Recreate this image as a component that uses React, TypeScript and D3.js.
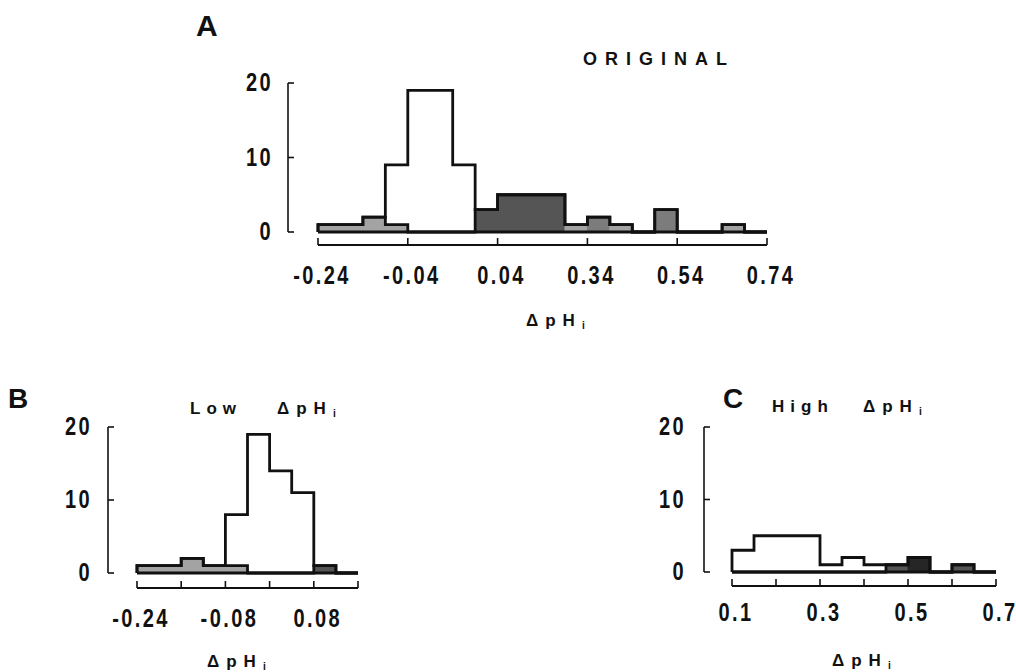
import React from 'react';
import * as d3 from 'd3';

// ---------- data ----------
// Panel A (ORIGINAL): counts per bin, outer outline and shaded part
const totalA = [1, 1, 2, 9, 19, 19, 9, 3, 5, 5, 5, 1, 2, 1, 0, 3, 0, 0, 1, 0];
const shadedA = [1, 1, 2, 1, 0, 0, 0, 3, 5, 5, 5, 1, 2, 1, 0, 3, 0, 0, 1, 0];
const toneA = ['L', 'L', 'L', 'L', '', '', '', 'D', 'D', 'D', 'D', 'L', 'M', 'L', '', 'M', '', '', 'L', ''];
const tickLabelsA = ['-0.24', '-0.04', '0.04', '0.34', '0.54', '0.74'];

// Panel B (Low ΔpHi)
const totalB = [1, 1, 2, 1, 8, 19, 14, 11, 1, 0];
const shadedB = [1, 1, 2, 1, 1, 0, 0, 0, 1, 0];
const toneB = ['L', 'L', 'L', 'L', 'L', '', '', '', 'D', ''];
const tickLabelsB = ['-0.24', '', '-0.08', '', '0.08', ''];

// Panel C (High ΔpHi)
const totalC = [3, 5, 5, 5, 1, 2, 1, 1, 2, 0, 1, 0];
const shadedC = [0, 0, 0, 0, 0, 0, 0, 1, 2, 0, 1, 0];
const toneC = ['', '', '', '', '', '', '', 'D', 'K', '', 'D', ''];
const tickLabelsC = ['0.1', '', '0.3', '', '0.5', '', '0.7'];

const yTickValues = [0, 10, 20];

const TONES: Record<string, string> = {
  L: '#a3a3a3',
  M: '#7c7c7c',
  D: '#555555',
  K: '#262626',
};

const NUM_FONT = "'Liberation Sans', Arial, sans-serif";
const INK = '#111';

function NarrowText({ x, y, children, anchor = 'middle', size = 25, ls = 3 }: any) {
  return (
    <text
      transform={`translate(${x},${y}) scale(0.8,1)`}
      textAnchor={anchor}
      dominantBaseline="central"
      fontFamily={NUM_FONT}
      fontWeight="bold"
      fontSize={size}
      letterSpacing={ls}
      fill={INK}
    >
      {children}
    </text>
  );
}

function DpHi({ x, y, size = 17, ls = 7 }: any) {
  return (
    <text x={x} y={y} fontFamily={NUM_FONT} fontWeight="bold" fontSize={size} letterSpacing={ls} fill={INK}>
      ΔpH
      <tspan fontSize={size * 0.6} dy={3}>i</tspan>
    </text>
  );
}

function Panel(props: any) {
  const {
    total, shaded, tone, tickLabels, tickStep,
    x0, x1, yBase, yTop, axisX, xAxisY, yLabelRight, xLabelCY,
  } = props;
  const n = total.length;
  const x = d3.scaleLinear().domain([0, n]).range([x0, x1]);
  const y = d3.scaleLinear().domain([0, 20]).range([yBase, yTop]);

  const stepLine = d3
    .line<[number, number]>()
    .x((d) => x(d[0]))
    .y((d) => y(d[1]))
    .curve(d3.curveStepAfter);

  const pts = (vals: number[]): [number, number][] => [
    [0, 0],
    ...vals.map((v, i) => [i, v] as [number, number]),
    [n, 0],
  ];

  const ticks = d3.range(0, n + 1, tickStep);

  return (
    <g>
      {/* shaded fills */}
      {shaded.map((v: number, i: number) =>
        v > 0 ? (
          <rect
            key={'s' + i}
            x={x(i) - 0.5}
            y={y(v)}
            width={x(i + 1) - x(i) + 1}
            height={y(0) - y(v)}
            fill={TONES[tone[i]] || '#888'}
          />
        ) : null
      )}
      {/* outlines */}
      <path d={stepLine(pts(total)) || ''} fill="none" stroke={INK} strokeWidth={2.8} strokeLinejoin="miter" />
      <path d={stepLine(pts(shaded)) || ''} fill="none" stroke={INK} strokeWidth={2.8} strokeLinejoin="miter" />
      <line x1={x(0)} x2={x(n)} y1={y(0)} y2={y(0)} stroke={INK} strokeWidth={2.8} />

      {/* y axis bracket */}
      <line x1={axisX} x2={axisX} y1={y(0)} y2={y(20)} stroke={INK} strokeWidth={1.6} />
      {yTickValues.map((t) => (
        <g key={'yt' + t}>
          <line x1={axisX} x2={axisX + 6} y1={y(t)} y2={y(t)} stroke={INK} strokeWidth={1.6} />
          <NarrowText x={yLabelRight} y={y(t)} anchor="end">{String(t)}</NarrowText>
        </g>
      ))}

      {/* x axis */}
      <line x1={x(0)} x2={x(n)} y1={xAxisY} y2={xAxisY} stroke={INK} strokeWidth={1.8} />
      {ticks.map((t: number, i: number) => (
        <g key={'xt' + t}>
          <line x1={x(t)} x2={x(t)} y1={xAxisY} y2={xAxisY - 7} stroke={INK} strokeWidth={1.6} />
          {tickLabels[i] ? (
            <NarrowText x={x(t) + 4} y={xLabelCY}>{tickLabels[i]}</NarrowText>
          ) : null}
        </g>
      ))}
    </g>
  );
}

export default function App() {
  return (
    <svg
      width={1016}
      height={672}
      style={{ position: 'absolute', left: 0, top: 0, background: '#fff' }}
    >
      <rect x={0} y={0} width={1016} height={672} fill="#fff" />

      {/* Panel A */}
      <text x={196} y={36} fontFamily={NUM_FONT} fontWeight="bold" fontSize={30} fill={INK}>A</text>
      <text x={583} y={65} fontFamily={NUM_FONT} fontWeight="bold" fontSize={18} letterSpacing={8} fill={INK}>ORIGINAL</text>
      <Panel
        total={totalA} shaded={shadedA} tone={toneA} tickLabels={tickLabelsA} tickStep={4}
        x0={318} x1={767} yBase={232} yTop={83} axisX={288} xAxisY={245}
        yLabelRight={273} xLabelCY={276}
      />
      <DpHi x={526} y={326} />

      {/* Panel B */}
      <text x={8} y={408} fontFamily={NUM_FONT} fontWeight="bold" fontSize={28} fill={INK}>B</text>
      <text x={190} y={414} fontFamily={NUM_FONT} fontWeight="bold" fontSize={17} letterSpacing={6} fill={INK}>Low</text>
      <DpHi x={277} y={414} />
      <Panel
        total={totalB} shaded={shadedB} tone={toneB} tickLabels={tickLabelsB} tickStep={2}
        x0={137} x1={358} yBase={573} yTop={427} axisX={108} xAxisY={588}
        yLabelRight={92} xLabelCY={619}
      />
      <DpHi x={207} y={667} />

      {/* Panel C */}
      <text x={723} y={408} fontFamily={NUM_FONT} fontWeight="bold" fontSize={28} fill={INK}>C</text>
      <text x={772} y={412} fontFamily={NUM_FONT} fontWeight="bold" fontSize={17} letterSpacing={6} fill={INK}>High</text>
      <DpHi x={863} y={412} />
      <Panel
        total={totalC} shaded={shadedC} tone={toneC} tickLabels={tickLabelsC} tickStep={2}
        x0={732} x1={996} yBase={572} yTop={427} axisX={704} xAxisY={586}
        yLabelRight={686} xLabelCY={613}
      />
      <DpHi x={832} y={666} />
    </svg>
  );
}
